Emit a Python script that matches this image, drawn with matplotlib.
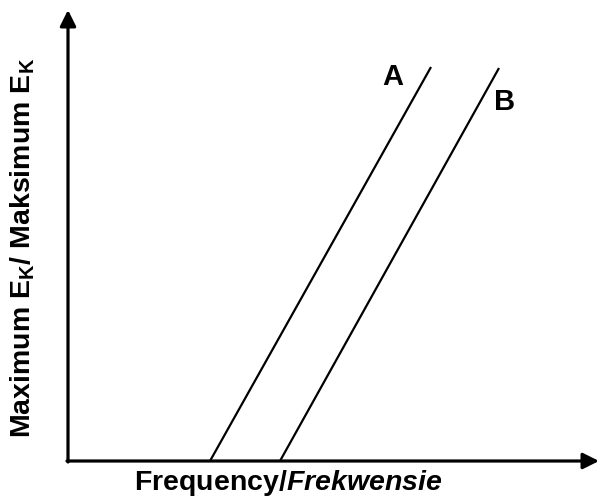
import matplotlib
matplotlib.use("Agg")
import matplotlib.pyplot as plt

plt.rcParams['font.family'] = ['Liberation Sans', 'DejaVu Sans']
plt.rcParams['mathtext.fontset'] = 'custom'
plt.rcParams['mathtext.rm'] = 'Liberation Sans:bold'
plt.rcParams['mathtext.it'] = 'Liberation Sans:bold:italic'
plt.rcParams['mathtext.bf'] = 'Liberation Sans:bold'

# sketch values (arbitrary units)
freq_a = [142, 363]
ek_a = [0, 394]
freq_b = [212, 431]
ek_b = [0, 393]
labels = ["A", "B"]
label_x = [325, 437]
label_y = [384, 359]

fig = plt.figure(figsize=(6.01, 4.97), dpi=100)
W, H = 601, 497
x0, y0, x1, y1 = 68, 461, 599, 10
ax = fig.add_axes([x0 / W, 1 - y0 / H, (x1 - x0) / W, (y0 - y1) / H])
ax.set_xlim(0, x1 - x0)
ax.set_ylim(0, y0 - y1)
ax.axis('off')

ax.plot(freq_a, ek_a, color='black', lw=1.6, solid_capstyle='butt')
ax.plot(freq_b, ek_b, color='black', lw=1.6, solid_capstyle='butt')
for lab, lx, ly in zip(labels, label_x, label_y):
    ax.text(lx, ly, lab, fontsize=21, fontweight='bold', ha='center', va='center')

# axes with arrows
arrow = dict(arrowstyle='-|>', lw=2.3, color='black', mutation_scale=24,
             shrinkA=0, shrinkB=0)
ax.annotate('', xy=(x1 - x0, 0), xytext=(-1, 0), arrowprops=arrow, annotation_clip=False)
ax.annotate('', xy=(0, y0 - y1), xytext=(0, -1), arrowprops=arrow, annotation_clip=False)

fig.text(288 / W, 1 - 483 / H, r'Frequency/$\mathit{Frekwensie}$',
         fontsize=20.5, fontweight='bold', ha='center', va='center')
fig.text(23 / W, 1 - 248 / H, r'Maximum E$_\mathrm{K}$/ Maksimum E$_\mathrm{K}$',
         fontsize=20.5, fontweight='bold', ha='center', va='center', rotation=90)

fig.savefig('out.png', dpi=100)
